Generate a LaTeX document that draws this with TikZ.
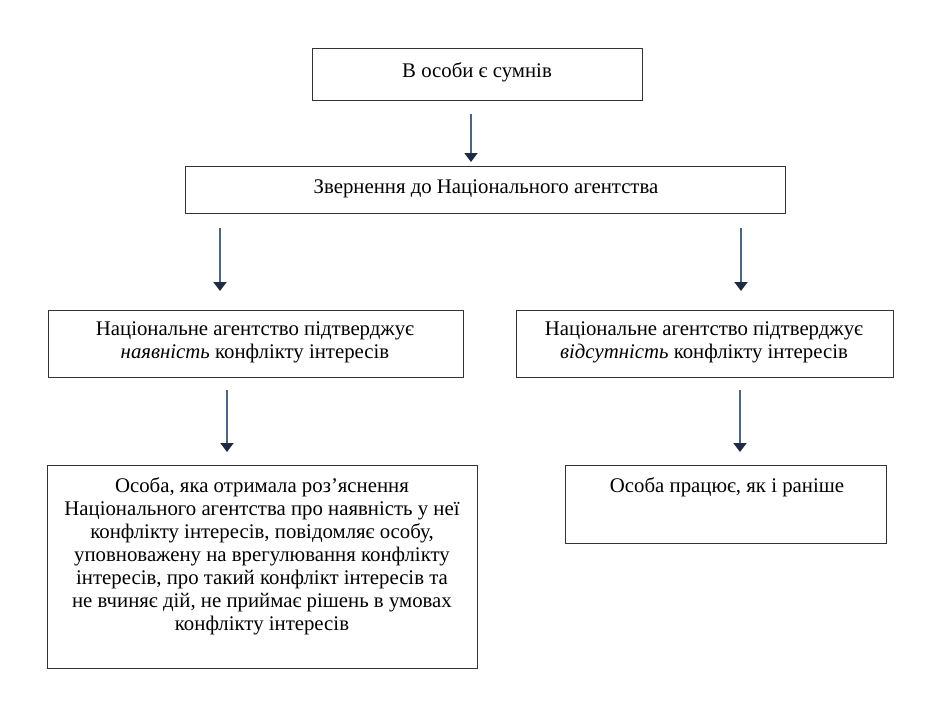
\documentclass[tikz,border=0pt]{standalone}
\usepackage{fontspec}
\setmainfont{Liberation Serif}
\usetikzlibrary{arrows.meta,calc}
\definecolor{shaft}{HTML}{4A6482}
\definecolor{headc}{HTML}{1E2B42}
\definecolor{frame}{HTML}{333333}
\tikzset{
  box/.style={draw=frame, line width=1.3pt, inner sep=0pt, anchor=north west},
  txt/.style={inner sep=0pt, align=center, anchor=base, font=\fontsize{20.8}{23}\selectfont},
  flow/.style={draw=shaft, line width=1.8pt, -{Triangle[width=13pt,length=9pt,color=headc]}},
}
\begin{document}
\begin{tikzpicture}[x=1pt,y=-1pt]
\useasboundingbox (0,0) rectangle (937,726);
% boxes
\node[box, minimum width=330pt, minimum height=52pt] (b1) at (312,48) {};
\node[box, minimum width=600pt, minimum height=47pt] (b2) at (185,166) {};
\node[box, minimum width=415pt, minimum height=67pt] (b3) at (48,310) {};
\node[box, minimum width=377pt, minimum height=67pt] (b4) at (516,310) {};
\node[box, minimum width=430pt, minimum height=203pt] (b5) at (47,465) {};
\node[box, minimum width=321pt, minimum height=78pt] (b6) at (565,465) {};
% texts (base anchor = last line)
\node[txt] (t1) at (477,77) {В особи є сумнів};
\node[txt] (t2) at (486,193) {Звернення до Національного агентства};
\node[txt] (t3) at (255,358) {Національне агентство підтверджує\\\textit{наявність} конфлікту інтересів};
\node[txt] (t4) at (704,358) {Національне агентство підтверджує\\\textit{відсутність} конфлікту інтересів};
\node[txt] (t5) at (262,630) {Особа, яка отримала роз’яснення\\Національного агентства про наявність у неї\\конфлікту інтересів, повідомляє особу,\\уповноважену на врегулювання конфлікту\\інтересів, про такий конфлікт інтересів та\\не вчиняє дій, не приймає рішень в умовах\\конфлікту інтересів};
\node[txt] (t6) at (727,492) {Особа працює, як і раніше};
% arrow end points
\coordinate (a1s) at (471,114); \coordinate (a1e) at (471,162);
\coordinate (a2s) at (220,228); \coordinate (a2e) at (220,291);
\coordinate (a3s) at (741,228); \coordinate (a3e) at (741,291);
\coordinate (a4s) at (227,390); \coordinate (a4e) at (227,452);
\coordinate (a5s) at (740,390); \coordinate (a5e) at (740,452);
\draw[flow] (a1s) -- (a1e);
\draw[flow] (a2s) -- (a2e);
\draw[flow] (a3s) -- (a3e);
\draw[flow] (a4s) -- (a4e);
\draw[flow] (a5s) -- (a5e);
\end{tikzpicture}
\end{document}
